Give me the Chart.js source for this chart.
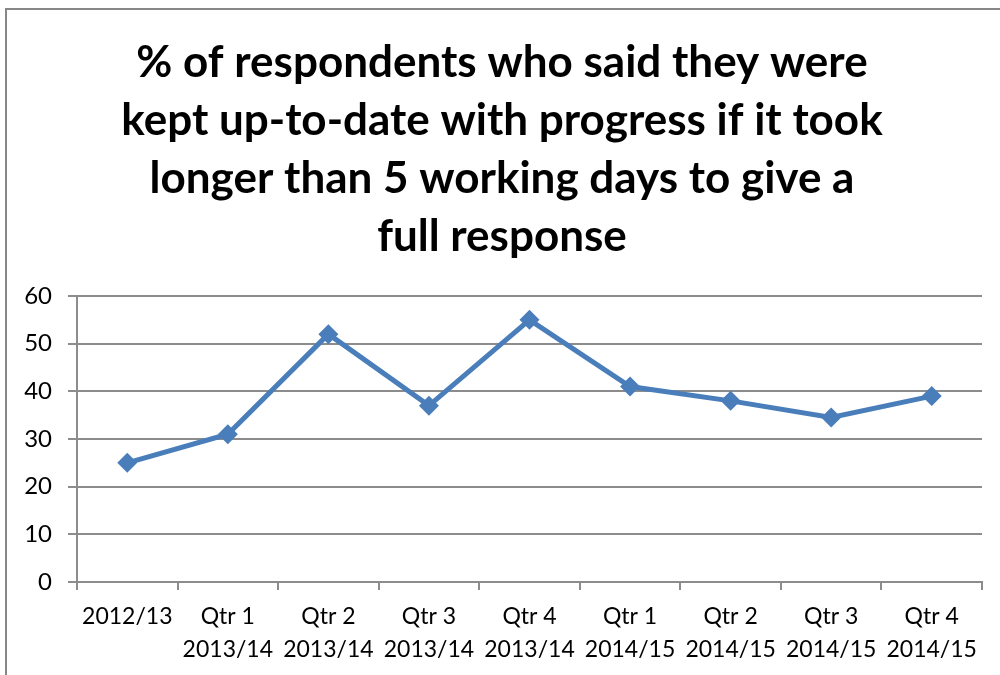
<!DOCTYPE html>
<html>
<head>
<meta charset="utf-8">
<script src="https://cdn.jsdelivr.net/npm/chart.js@4/dist/chart.umd.min.js"></script>
<style>
  html, body { margin: 0; padding: 0; background: #fff; overflow: hidden; }
  #frame { position: absolute; left: 5px; top: 8px; width: 1100px; height: 800px; border: 2px solid #878787; }
  #wrap { position: absolute; left: 0; top: 0; width: 1000px; height: 675px; }
</style>
</head>
<body>
<div id="frame"></div>
<div id="wrap"><canvas id="canvas" width="1000" height="675"></canvas></div>
<script>
var titleLines = [
	'% of respondents who said they were',
	'kept up-to-date with progress if it took',
	'longer than 5 working days to give a',
	'full response'
];
var labels = [
	['2012/13', ''],
	['Qtr 1', '2013/14'],
	['Qtr 2', '2013/14'],
	['Qtr 3', '2013/14'],
	['Qtr 4', '2013/14'],
	['Qtr 1', '2014/15'],
	['Qtr 2', '2014/15'],
	['Qtr 3', '2014/15'],
	['Qtr 4', '2014/15']
];
var values = [25, 31, 52, 37, 55, 41, 38, 34.5, 39];

var gridColor = '#8c8c8c';
var blue = '#4a7ebb';

var ctx = document.getElementById('canvas').getContext('2d');
var chart = new Chart(ctx, {
	type: 'line',
	data: {
		labels: labels,
		datasets: [{
			data: values,
			borderColor: blue,
			backgroundColor: blue,
			borderWidth: 5,
			pointStyle: 'rectRot',
			pointRadius: 10,
			pointBorderWidth: 0,
			tension: 0
		}]
	},
	options: {
		responsive: false,
		animation: false,
		// left padding nudges the title centre right; y labels still need room (clipped to scale box)
		layout: { padding: { left: 22, right: 18, top: 0, bottom: 0 } },
		plugins: {
			legend: { display: false },
			tooltip: { enabled: false },
			title: {
				display: true,
				text: titleLines,
				color: '#000',
				font: { family: 'Lato', size: 44, weight: 'bold', lineHeight: '58px' },
				padding: { top: 34, bottom: 30 }
			}
		},
		scales: {
			x: {
				offset: true,
				grid: { offset: true, drawOnChartArea: false, color: gridColor, lineWidth: 2, tickLength: 8 },
				border: { color: gridColor, width: 2 },
				ticks: {
					color: '#000',
					font: { family: 'Lato', size: 23, lineHeight: '33px' },
					padding: 10,
					maxRotation: 0,
					autoSkip: false
				},
				afterFit: function(s) { s.height = 93; }
			},
			y: {
				min: 0,
				max: 60,
				ticks: {
					stepSize: 10,
					color: '#000',
					font: { family: 'Lato', size: 24 },
					padding: 16
				},
				grid: { color: gridColor, lineWidth: 2, tickLength: 9 },
				border: { color: gridColor, width: 2 },
				afterFit: function(s) { s.width = 55; }
			}
		}
	}
});
</script>
</body>
</html>
